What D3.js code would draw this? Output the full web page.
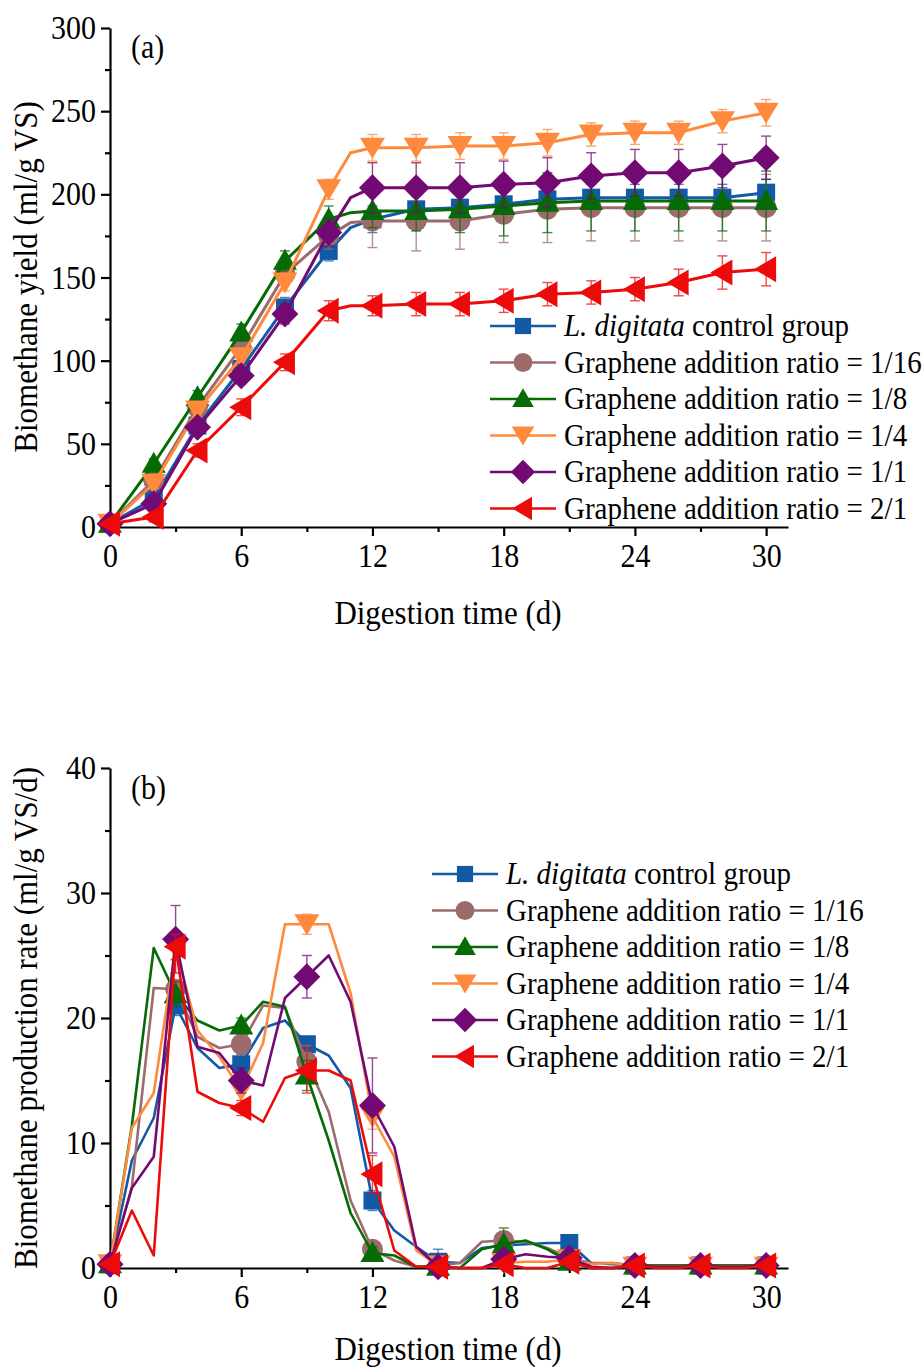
<!DOCTYPE html>
<html>
<head>
<meta charset="utf-8">
<script src="https://cdn.jsdelivr.net/npm/d3@7"></script>
<style>
  html, body { margin: 0; padding: 0; background: #fff; }
  svg { display: block; }
</style>
</head>
<body>
<svg id="chart" width="923" height="1368"></svg>
<script>
// ---------- data ----------
const seriesNames = ["control", "1/16", "1/8", "1/4", "1/1", "2/1"];
const legendLabels = [
  ["L. digitata", " control group"],
  ["", "Graphene addition ratio = 1/16"],
  ["", "Graphene addition ratio = 1/8"],
  ["", "Graphene addition ratio = 1/4"],
  ["", "Graphene addition ratio = 1/1"],
  ["", "Graphene addition ratio = 2/1"]
];

// (a) cumulative biomethane yield, ml/g VS
const daysA = [0, 2, 4, 6, 8, 10, 11, 12, 14, 16, 18, 20, 22, 24, 26, 28, 30];
const markerDaysA = [0, 2, 4, 6, 8, 10, 12, 14, 16, 18, 20, 22, 24, 26, 28, 30];
const yieldControl = [2, 17, 61, 95, 132, 166, 180, 185, 191, 192, 194, 197, 198, 198, 198, 198, 201];
const yield1_16    = [2, 28, 72, 108, 152, 175, 183, 184, 184, 184, 188, 191, 192, 192, 192, 192, 192];
const yield1_8     = [2, 38, 78, 117, 160, 185, 189, 190, 190, 191, 193, 195, 196, 196, 196, 196, 196];
const yield1_4     = [2, 26, 70, 102, 147, 203, 225, 228, 228, 229, 229, 231, 236, 237, 237, 244, 249];
const yield1_1     = [2, 14, 60, 91, 128, 177, 198, 204, 204, 204, 206, 207, 211, 213, 213, 217, 222];
const yield2_1     = [2, 6, 46, 72, 99, 130, 133, 133, 134, 134, 136, 140, 141, 143, 147, 153, 155];
const errControl = [1, 3, 4, 5, 6, 6, 0, 8, 8, 8, 8, 8, 8, 8, 8, 8, 8];
const err1_16    = [1, 3, 4, 5, 6, 8, 0, 16, 18, 17, 17, 20, 20, 20, 20, 20, 20];
const err1_8     = [1, 3, 4, 5, 6, 8, 0, 10, 12, 14, 18, 18, 18, 18, 18, 18, 18];
const err1_4     = [1, 3, 4, 5, 5, 6, 0, 8, 8, 8, 8, 8, 7, 7, 7, 7, 8];
const err1_1     = [1, 3, 4, 5, 6, 8, 0, 15, 15, 15, 14, 15, 14, 14, 14, 13, 13];
const err2_1     = [1, 3, 4, 5, 5, 6, 0, 6, 7, 7, 7, 7, 7, 7, 8, 10, 10];

// (b) daily biomethane production rate, ml/g VS/d
const daysB = d3.range(0, 31);
const markerDaysB = [0, 3, 6, 9, 12, 15, 18, 21, 24, 27, 30];
const rateControl = [0.3, 8.6, 12.0, 21.0, 17.6, 16.0, 16.3, 19.2, 19.8, 17.9, 17.0, 14.4, 5.4, 3.0, 1.7, 0.5, 0.4, 1.6, 1.8, 1.9, 2.0, 2.0, 0.4, 0.3, 0.2, 0.2, 0.2, 0.2, 0.2, 0.2, 0.2];
const rate1_16    = [0.3, 6.5, 22.4, 22.3, 18.5, 17.6, 17.9, 21.0, 20.8, 16.5, 12.5, 5.4, 1.5, 0.6, 0.1, 0.2, 0.4, 2.1, 2.2, 2.1, 1.6, 0.8, 0.4, 0.4, 0.2, 0.2, 0.2, 0.2, 0.2, 0.2, 0.2];
const rate1_8     = [0.3, 11.4, 25.6, 21.9, 19.8, 19.0, 19.4, 21.3, 20.9, 15.4, 10.2, 4.4, 1.2, 1.0, 0.1, 0.1, 0.0, 1.5, 1.9, 2.2, 1.5, 0.5, 0.0, 0.0, 0.2, 0.2, 0.2, 0.2, 0.2, 0.2, 0.2];
const rate1_4     = [0.3, 11.2, 14.0, 25.6, 19.0, 16.9, 14.2, 18.0, 27.5, 27.5, 27.5, 22.0, 12.1, 8.9, 1.4, 0.2, 0.0, 0.0, 0.4, 0.5, 0.5, 0.7, 0.3, 0.4, 0.1, 0.1, 0.1, 0.1, 0.1, 0.1, 0.1];
const rate1_1     = [0.3, 6.4, 8.9, 26.3, 17.7, 17.2, 15.0, 14.6, 21.6, 23.3, 25.0, 21.3, 13.0, 9.7, 1.7, 0.1, 0.0, 0.0, 0.7, 1.1, 0.9, 0.8, 0.1, 0.0, 0.2, 0.1, 0.1, 0.2, 0.1, 0.1, 0.2];
const rate2_1     = [0.3, 4.6, 1.0, 25.7, 14.1, 13.2, 12.8, 11.7, 15.2, 15.8, 15.8, 15.0, 7.5, 1.4, 0.1, 0.1, 0.0, 0.0, 0.3, 0.0, 0.0, 0.5, 0.0, 0.0, 0.2, 0.0, 0.0, 0.2, 0.0, 0.0, 0.2];
// error bars at marker days (0, 3, ..., 30)
const rateErrControl = [0.3, 0.8, 0.8, 0.5, 0.8, 1.0, 0.3, 0.3, 0.2, 0.2, 0.2];
const rateErr1_16    = [0.2, 0.6, 0.8, 1.3, 0.5, 0.3, 0.5, 0.3, 0.2, 0.2, 0.2];
const rateErr1_8     = [0.2, 1.0, 0.6, 1.2, 0.5, 0.2, 1.3, 0.2, 0.2, 0.2, 0.2];
const rateErr1_4     = [0.2, 1.0, 1.0, 0.8, 1.0, 0.2, 0.5, 0.3, 0.2, 0.2, 0.2];
const rateErr1_1     = [0.2, 2.7, 1.0, 1.7, 3.8, 0.2, 0.5, 0.3, 0.2, 0.2, 0.2];
const rateErr2_1     = [0.2, 1.0, 0.6, 1.8, 1.5, 0.2, 0.3, 0.3, 0.2, 0.2, 0.2];

const ticksX = [0, 6, 12, 18, 24, 30];
const minorTicksX = [3, 9, 15, 21, 27];
const ticksYA = [0, 50, 100, 150, 200, 250, 300];
const minorTicksYA = [25, 75, 125, 175, 225, 275];
const ticksYB = [0, 10, 20, 30, 40];
const minorTicksYB = [5, 15, 25, 35];

// ---------- styling ----------
const colors = ["#125aa5", "#9c6b6b", "#056b05", "#ff8a3d", "#730a73", "#ec0a0a"];
const shapes = ["square", "circle", "triUp", "triDown", "diamond", "triLeft"];
const FONT = "'Liberation Serif', 'Times New Roman', serif";
const TEXT_STRETCH = 1.1; // glyphs are drawn slightly taller than wide

// marker path generators (centered at origin)
function markerPath(shape) {
  const p = d3.path();
  switch (shape) {
    case "square": p.rect(-9, -9, 18, 18); break;
    case "circle": p.arc(0, 0, 10.5, 0, 2 * Math.PI); break;
    case "triUp": p.moveTo(0, -12); p.lineTo(12, 9); p.lineTo(-12, 9); p.closePath(); break;
    case "triDown": p.moveTo(-12.5, -10); p.lineTo(12.5, -10); p.lineTo(0, 11); p.closePath(); break;
    case "diamond": p.moveTo(0, -13.5); p.lineTo(13.5, 0); p.lineTo(0, 13.5); p.lineTo(-13.5, 0); p.closePath(); break;
    case "triLeft": p.moveTo(-12, 0); p.lineTo(10, -13); p.lineTo(10, 13); p.closePath(); break;
  }
  return p.toString();
}

const svg = d3.select("#chart");

function drawPanel(cfg) {
  const x = d3.scaleLinear().domain([0, 31]).range([110, 788]);
  const y = d3.scaleLinear().domain(cfg.yDomain).range(cfg.yRange);
  const g = svg.append("g");

  // axes
  const xAxis = g.append("g").attr("transform", `translate(0,${cfg.yRange[0]})`)
    .call(d3.axisBottom(x).tickValues(ticksX).tickSize(9).tickSizeOuter(0).tickPadding(8).tickFormat(d3.format("d")));
  const xMinor = g.append("g").attr("transform", `translate(0,${cfg.yRange[0]})`)
    .call(d3.axisBottom(x).tickValues(minorTicksX).tickSize(5).tickSizeOuter(0).tickFormat(""));
  xMinor.select(".domain").remove();
  const yAxis = g.append("g").attr("transform", "translate(110,0)")
    .call(d3.axisLeft(y).tickValues(cfg.ticksY).tickSize(9).tickSizeOuter(0).tickPadding(5).tickFormat(d3.format("d")));
  const yMinor = g.append("g").attr("transform", "translate(110,0)")
    .call(d3.axisLeft(y).tickValues(cfg.minorTicksY).tickSize(5).tickSizeOuter(0).tickFormat(""));
  yMinor.select(".domain").remove();
  [xAxis, xMinor, yAxis, yMinor].forEach(a => {
    a.selectAll("path, line").attr("stroke", "#000").attr("stroke-width", 2.2);
    a.selectAll("text").attr("font-family", FONT).attr("font-size", 30).attr("fill", "#000");
  });

  // axis titles
  g.append("text").attr("x", 448).attr("y", cfg.xTitleY)
    .attr("text-anchor", "middle").attr("font-family", FONT).attr("font-size", 31)
    .attr("dominant-baseline", "central").text("Digestion time (d)");
  g.append("text").attr("transform", `translate(25,${cfg.yTitleY}) rotate(-90)`)
    .attr("text-anchor", "middle").attr("font-family", FONT).attr("font-size", 31)
    .attr("dominant-baseline", "central").text(cfg.yTitle);
  // panel tag
  g.append("text").attr("x", 131).attr("y", cfg.tagY)
    .attr("font-family", FONT).attr("font-size", 30).attr("dominant-baseline", "central").text(cfg.tag);

  // series
  const line = d3.line().x(d => x(d[0])).y(d => y(d[1]));
  cfg.values.forEach((vals, i) => {
    const pts = cfg.days.map((d, k) => [d, vals[k]]);
    const sg = g.append("g");
    sg.append("path").datum(pts).attr("d", line)
      .attr("fill", "none").attr("stroke", colors[i]).attr("stroke-width", cfg.lineWidth)
      .attr("stroke-linejoin", "round");
    const marks = cfg.markerDays.map((d, k) => {
      const idx = cfg.days.indexOf(d);
      return { d, v: vals[idx], e: cfg.errFor(i, k, idx) };
    });
    sg.selectAll("path.mk").data(marks).join("path").attr("class", "mk")
      .attr("d", markerPath(shapes[i]))
      .attr("transform", m => `translate(${x(m.d)},${y(m.v)})`)
      .attr("fill", colors[i]);
    // error bars over the markers
    const eb = sg.selectAll("g.eb").data(marks.filter(m => m.e > 0)).join("g").attr("class", "eb")
      .attr("stroke", colors[i]).attr("stroke-width", 1.4).attr("opacity", 0.75);
    eb.append("line").attr("x1", m => x(m.d)).attr("x2", m => x(m.d))
      .attr("y1", m => y(m.v - m.e)).attr("y2", m => y(m.v + m.e));
    eb.append("line").attr("x1", m => x(m.d) - 5).attr("x2", m => x(m.d) + 5)
      .attr("y1", m => y(m.v + m.e)).attr("y2", m => y(m.v + m.e));
    eb.append("line").attr("x1", m => x(m.d) - 5).attr("x2", m => x(m.d) + 5)
      .attr("y1", m => y(m.v - m.e)).attr("y2", m => y(m.v - m.e));
  });

  // legend
  const lg = g.append("g");
  legendLabels.forEach((lab, i) => {
    const ry = cfg.legendY + i * 36.5;
    lg.append("line").attr("x1", cfg.legendX).attr("x2", cfg.legendX + 66)
      .attr("y1", ry).attr("y2", ry).attr("stroke", colors[i]).attr("stroke-width", 2.5);
    lg.append("path").attr("d", markerPath(shapes[i]))
      .attr("transform", `translate(${cfg.legendX + 33},${ry}) scale(0.9)`).attr("fill", colors[i]);
    const t = lg.append("text").attr("x", cfg.legendX + 74).attr("y", ry)
      .attr("font-family", FONT).attr("font-size", 29).attr("dominant-baseline", "central");
    if (lab[0]) t.append("tspan").attr("font-style", "italic").text(lab[0]);
    t.append("tspan").text(lab[1]);
  });
}

drawPanel({
  yDomain: [0, 300], yRange: [527, 28],
  ticksY: ticksYA, minorTicksY: minorTicksYA,
  xTitleY: 612, yTitleY: 277, yTitle: "Biomethane yield (ml/g VS)",
  tag: "(a)", tagY: 47,
  days: daysA, markerDays: markerDaysA,
  values: [yieldControl, yield1_16, yield1_8, yield1_4, yield1_1, yield2_1],
  errFor: (i, k, idx) => [errControl, err1_16, err1_8, err1_4, err1_1, err2_1][i][idx],
  lineWidth: 3,
  legendX: 490, legendY: 326
});

drawPanel({
  yDomain: [0, 40], yRange: [1268, 768],
  ticksY: ticksYB, minorTicksY: minorTicksYB,
  xTitleY: 1348, yTitleY: 1018, yTitle: "Biomethane production rate (ml/g VS/d)",
  tag: "(b)", tagY: 788,
  days: daysB, markerDays: markerDaysB,
  values: [rateControl, rate1_16, rate1_8, rate1_4, rate1_1, rate2_1],
  errFor: (i, k) => [rateErrControl, rateErr1_16, rateErr1_8, rateErr1_4, rateErr1_1, rateErr2_1][i][k],
  lineWidth: 2.6,
  legendX: 432, legendY: 874
});

// give every label the slightly tall serif look, stretching about its own anchor
svg.selectAll("text").each(function () {
  const t = d3.select(this);
  const tx = +t.attr("x") || 0, ty = +t.attr("y") || 0;
  const base = t.attr("transform") || "";
  t.attr("x", 0).attr("y", 0)
    .attr("transform", `${base} translate(${tx},${ty}) scale(1,${TEXT_STRETCH})`);
});
</script>
</body>
</html>
